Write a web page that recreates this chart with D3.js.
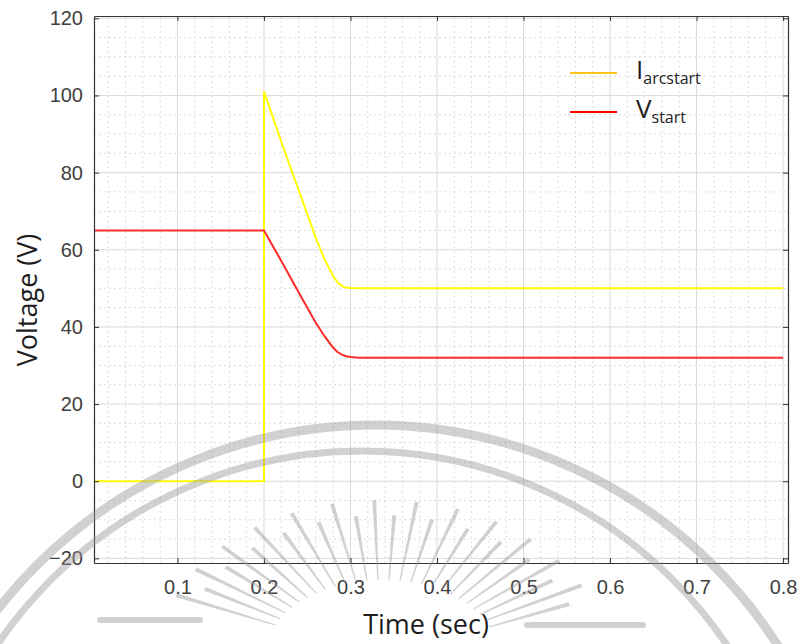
<!DOCTYPE html>
<html>
<head>
<meta charset="utf-8">
<script src="https://cdn.jsdelivr.net/npm/d3@7"></script>
<style>
  html, body { margin: 0; padding: 0; background: #fff; }
  svg { display: block; }
</style>
</head>
<body>
<div id="chart"></div>
<script>
// data
const timeI = [0, 0.2, 0.2, 0.22, 0.24, 0.26, 0.27, 0.28, 0.285, 0.29, 0.295, 0.30, 0.31, 0.8];
const iArcstart = [0, 0, 101, 88, 75.5, 63, 57.5, 53.2, 51.5, 50.6, 50.2, 50.1, 50, 50];
const timeV = [0, 0.2, 0.22, 0.24, 0.26, 0.27, 0.28, 0.285, 0.29, 0.295, 0.30, 0.31, 0.8];
const vStart = [65, 65, 57.1, 49, 41, 37.6, 34.6, 33.5, 32.8, 32.4, 32.2, 32, 32];
const xTicks = [0.1, 0.2, 0.3, 0.4, 0.5, 0.6, 0.7, 0.8];
const yTicks = [-20, 0, 20, 40, 60, 80, 100, 120];

const W = 800, H = 644;
const margin = { top: 16, right: 12, bottom: 81, left: 94 };
const width = W - margin.left - margin.right;
const height = H - margin.top - margin.bottom;

const svg = d3.select('#chart').append('svg')
    .attr('width', W)
    .attr('height', H);

const g = svg.append('g')
    .attr('transform', `translate(${margin.left},${margin.top})`);

const x = d3.scaleLinear().domain([0.0035, 0.8057]).range([0, width]);
const y = d3.scaleLinear().domain([-21.2, 120.6]).range([height, 0]);

// minor grid (dashed)
const xMinor = d3.range(0.02, 0.801, 0.02).filter(v => Math.abs(v * 10 - Math.round(v * 10)) > 1e-6);
const yMinor = d3.range(-20, 121, 5).filter(v => v % 20 !== 0);

g.append('g').selectAll('line').data(xMinor).join('line')
    .attr('x1', d => x(d)).attr('x2', d => x(d))
    .attr('y1', 0).attr('y2', height)
    .attr('stroke', '#dcdcdc').attr('stroke-dasharray', '2,3');
g.append('g').selectAll('line').data(yMinor).join('line')
    .attr('y1', d => y(d)).attr('y2', d => y(d))
    .attr('x1', 0).attr('x2', width)
    .attr('stroke', '#dcdcdc').attr('stroke-dasharray', '2,3');

// major grid
g.append('g').selectAll('line').data(xTicks).join('line')
    .attr('x1', d => x(d)).attr('x2', d => x(d))
    .attr('y1', 0).attr('y2', height)
    .attr('stroke', '#dadada');
g.append('g').selectAll('line').data(yTicks).join('line')
    .attr('y1', d => y(d)).attr('y2', d => y(d))
    .attr('x1', 0).attr('x2', width)
    .attr('stroke', '#dadada');

// lines
g.append('clipPath').attr('id', 'plotClip')
    .append('rect').attr('width', width).attr('height', height);

const line = d3.line()
    .x(d => x(d[0]))
    .y(d => y(d[1]));

const plot = g.append('g').attr('clip-path', 'url(#plotClip)');

plot.append('path')
    .datum(timeI.map((t, i) => [t, iArcstart[i]]))
    .attr('fill', 'none')
    .attr('stroke', '#ffff00')
    .attr('stroke-width', 2)
    .attr('d', line);

plot.append('path')
    .datum(timeV.map((t, i) => [t, vStart[i]]))
    .attr('fill', 'none')
    .attr('stroke', '#ff2a2a')
    .attr('stroke-width', 2)
    .attr('d', line);

// axes: box with inward ticks
const tickFont = g => g.selectAll('text')
    .style('font-family', '"Liberation Sans", Arial, sans-serif')
    .style('font-size', '20px')
    .attr('fill', '#404040');

const styleAxis = g => {
    g.select('.domain').attr('stroke', '#333').attr('stroke-width', 1.2);
    g.selectAll('.tick line').attr('stroke', '#333');
};

g.append('g')
    .attr('transform', `translate(0,${height})`)
    .call(d3.axisBottom(x).tickValues(xTicks).tickSize(-5).tickSizeOuter(0).tickPadding(17).tickFormat(d3.format('.1f')))
    .call(styleAxis)
    .call(tickFont);

g.append('g')
    .call(d3.axisLeft(y).tickValues(yTicks).tickSize(-5).tickSizeOuter(0).tickPadding(11))
    .call(styleAxis)
    .call(tickFont);

g.append('g')
    .call(d3.axisTop(x).tickValues(xTicks).tickSize(-5).tickSizeOuter(0).tickFormat(''))
    .call(styleAxis);

g.append('g')
    .attr('transform', `translate(${width},0)`)
    .call(d3.axisRight(y).tickValues(yTicks).tickSize(-5).tickSizeOuter(0).tickFormat(''))
    .call(styleAxis);

// axis titles
svg.append('text')
    .attr('x', 426)
    .attr('y', 634)
    .attr('text-anchor', 'middle')
    .style('font-family', '"Open Sans", "Noto Sans", sans-serif')
    .style('font-size', '27px')
    .attr('fill', '#1e1e1e')
    .text('Time (sec)');

svg.append('text')
    .attr('transform', 'translate(37,300) rotate(-90)')
    .attr('text-anchor', 'middle')
    .style('font-family', '"Open Sans", "Noto Sans", sans-serif')
    .style('font-size', '27px')
    .attr('fill', '#1e1e1e')
    .text('Voltage (V)');

// legend
const legendItems = [
    { main: 'I', sub: 'arcstart', color: '#ffc61a' },
    { main: 'V', sub: 'start', color: '#ff0000' }
];
const legend = svg.append('g').attr('transform', 'translate(570,73)');
legendItems.forEach((d, i) => {
    const row = legend.append('g').attr('transform', `translate(0,${i * 39})`);
    row.append('line')
        .attr('x1', 0).attr('x2', 47)
        .attr('stroke', d.color).attr('stroke-width', 2);
    const t = row.append('text')
        .attr('x', 66).attr('y', 6)
        .style('font-family', '"Open Sans", "Noto Sans", sans-serif')
        .attr('fill', '#1e1e1e');
    t.append('tspan').style('font-size', '26px').text(d.main);
    t.append('tspan').style('font-size', '16px').attr('dy', 5).text(d.sub);
});

// faint seal watermark over the figure
const wm = svg.append('g')
    .attr('fill', 'none')
    .attr('stroke', '#9a9a9a')
    .attr('opacity', 0.45);

wm.append('circle').attr('cx', 375).attr('cy', 903).attr('r', 478).attr('stroke-width', 9);
wm.append('circle').attr('cx', 362).attr('cy', 891).attr('r', 440).attr('stroke-width', 7);

// sun rays
const rayAngles = d3.range(202, 343, 5.5);
const cx0 = 382, cy0 = 652;
wm.append('g').selectAll('path').data(rayAngles).join('path')
    .attr('stroke', 'none')
    .attr('fill', '#9a9a9a')
    .attr('d', (a, i) => {
        const r = a * Math.PI / 180;
        const k = i % 2 ? 0.9 : 1;
        const ox = cx0 + Math.cos(r) * 222 * k, oy = cy0 + Math.sin(r) * 152 * k;
        const ix = cx0 + Math.cos(r) * 115, iy = cy0 + Math.sin(r) * 72;
        const nx = -Math.sin(r), ny = Math.cos(r);
        return `M${ix + nx * 0.6},${iy + ny * 0.6}L${ox + nx * 2},${oy + ny * 2}L${ox - nx * 2},${oy - ny * 2}L${ix - nx * 0.6},${iy - ny * 0.6}Z`;
    });

wm.append('line').attr('x1', 100).attr('x2', 200).attr('y1', 620).attr('y2', 620)
    .attr('stroke-width', 6).attr('stroke-linecap', 'round');
wm.append('line').attr('x1', 527).attr('x2', 643).attr('y1', 625).attr('y2', 625)
    .attr('stroke-width', 6).attr('stroke-linecap', 'round');
</script>
</body>
</html>
